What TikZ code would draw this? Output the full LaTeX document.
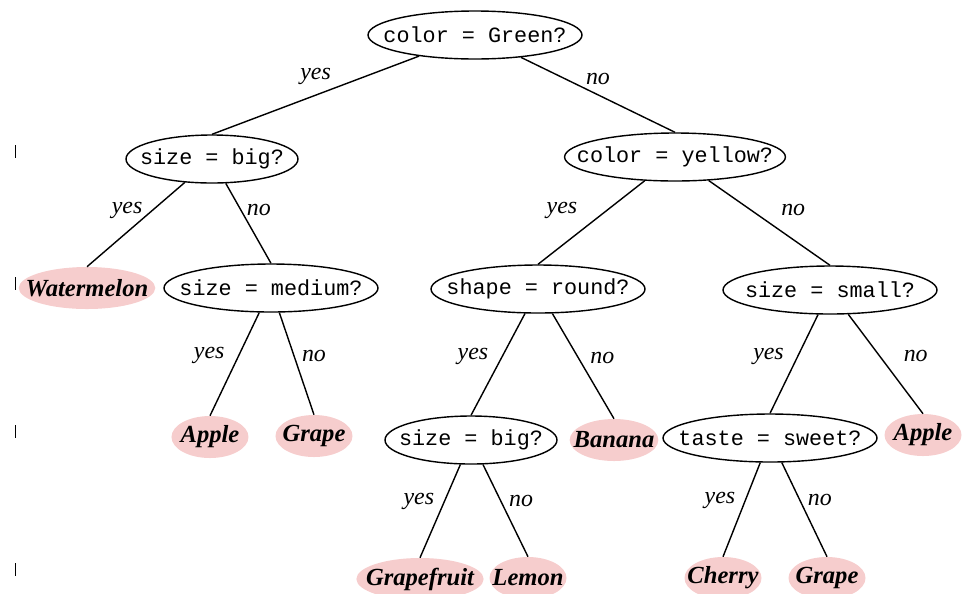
\documentclass[tikz,border=0pt]{standalone}
\usepackage{fontspec}
\setmainfont{Liberation Serif}
\setmonofont{Liberation Mono}
\usetikzlibrary{positioning,shapes.geometric}
\definecolor{LeafPink}{HTML}{F6CDCD}

\begin{document}
\begin{tikzpicture}[
          x=0.25mm, y=-0.25mm,
          qbox/.style={ellipse,draw,line width=1pt,fill=white,on grid,
                       minimum width=53.5mm,minimum height=12mm,
                       inner xsep=-5mm,inner ysep=0pt,
                       font=\fontsize{15.5}{18}\selectfont\ttfamily},
          leaf/.style={ellipse,fill=LeafPink,on grid,
                       minimum width=19.25mm,minimum height=10.5mm,
                       inner xsep=-2.25mm,inner ysep=0pt,
                       font=\fontsize{17.5}{20}\selectfont\bfseries\itshape},
          br/.style={line width=1pt},
          lbl/.style={font=\fontsize{17}{20}\selectfont\itshape,inner sep=1pt},
          levelmark/.style={line width=0.6pt}]
        \useasboundingbox (0,0) rectangle (969,593);
        \clip (0,0) rectangle (969,593);
        \foreach \y in {145,277,425,563}
          \draw[levelmark] (15,\y) -- ++(0,13);
        % questions
        \node[qbox] (root) at (475,35) {color = Green?};
        \node[qbox,minimum width=43mm,below left=31mm and 65.75mm of root] (big) {size = big?};
        \node[qbox,below right=30.5mm and 50mm of root] (yellow) {color = yellow?};
        \node[leaf,inner xsep=-3.25mm,below left=32.25mm and 31.25mm of big] (melon) {Watermelon};
        \node[qbox,below right=32.25mm and 14.75mm of big] (medium) {size = medium?};
        \node[qbox,below left=33mm and 34.25mm of yellow] (round) {shape = round?};
        \node[qbox,below right=33.25mm and 38.75mm of yellow] (small) {size = small?};
        \node[leaf,below left=37.25mm and 15.25mm of medium] (appleA) {Apple};
        \node[leaf,below right=37mm and 10.75mm of medium] (grapeA) {Grape};
        \node[qbox,minimum width=43mm,below left=37.75mm and 16.75mm of round] (bigB) {size = big?};
        \node[leaf,below right=37.75mm and 19mm of round] (banana) {Banana};
        \node[qbox,below left=37mm and 15mm of small] (sweet) {taste = sweet?};
        \node[leaf,below right=36.25mm and 23.25mm of small] (appleB) {Apple};
        \node[leaf,below left=34.75mm and 12.75mm of bigB] (gfruit) {Grapefruit};
        \node[leaf,below right=34.5mm and 14.25mm of bigB] (lemon) {Lemon};
        \node[leaf,below left=35mm and 11.75mm of sweet] (cherry) {Cherry};
        \node[leaf,below right=35mm and 14.25mm of sweet] (grapeB) {Grape};
        % branches
        \draw[br] (root) -- node[lbl,pos=.5,above=2mm]{yes} (big.north);
        \draw[br] (root) -- node[lbl,pos=.5,above=2mm]{no} (yellow.north);
        \draw[br] (big) -- node[lbl,pos=.33,left=2mm]{yes} (melon.north);
        \draw[br] (big) -- node[lbl,pos=.33,right=1mm]{no} (medium.north);
        \draw[br] (yellow) -- node[lbl,pos=.35,left=7mm]{yes} (round.north);
        \draw[br] (yellow) -- node[lbl,pos=.35,right=7mm]{no} (small.north);
        \draw[br] (medium) -- node[lbl,pos=.42,left=3mm]{yes} (appleA.north);
        \draw[br] (medium) -- node[lbl,pos=.42,right=1.5mm]{no} (grapeA.north);
        \draw[br] (round) -- node[lbl,pos=.42,left=3mm]{yes} (bigB.north);
        \draw[br] (round) -- node[lbl,pos=.42,right=2.5mm]{no} (banana.north);
        \draw[br] (small) -- node[lbl,pos=.42,left=3mm]{yes} (sweet.north);
        \draw[br] (small) -- node[lbl,pos=.42,right=5.5mm]{no} (appleB.north);
        \draw[br] (bigB) -- node[lbl,pos=.4,left=2mm]{yes} (gfruit.north);
        \draw[br] (bigB) -- node[lbl,pos=.4,right=1.5mm]{no} (lemon.north);
        \draw[br] (sweet) -- node[lbl,pos=.4,left=2mm]{yes} (cherry.north);
        \draw[br] (sweet) -- node[lbl,pos=.4,right=1.5mm]{no} (grapeB.north);
      \end{tikzpicture}
\end{document}
